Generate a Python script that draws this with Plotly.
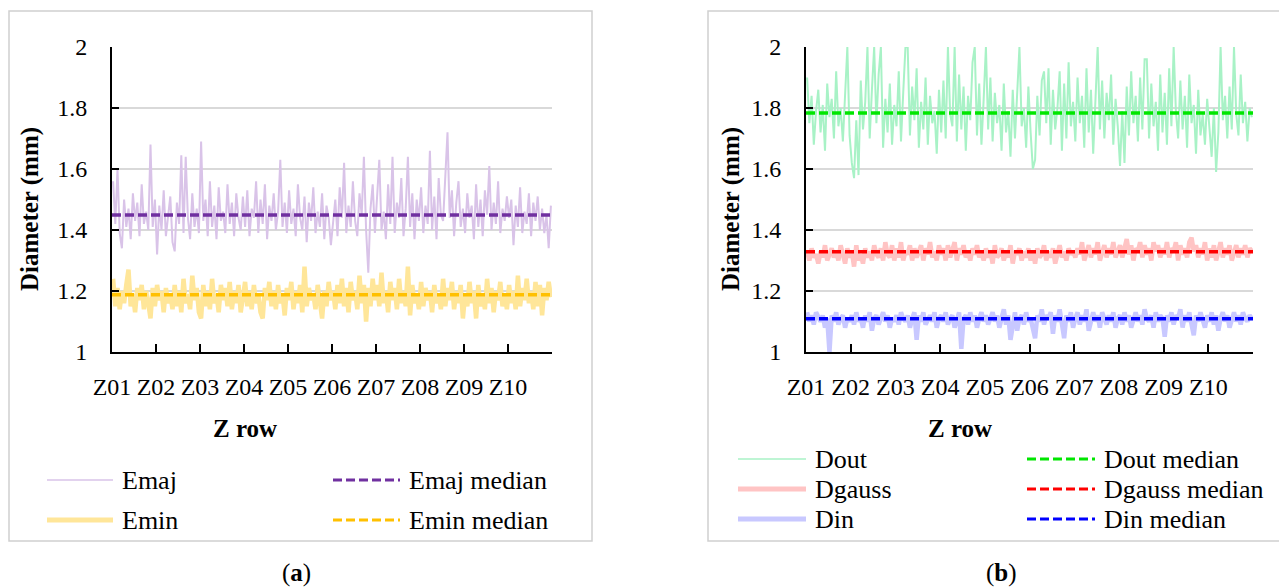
import plotly.graph_objects as go

# ---------------- data ----------------
zones = ["Z01", "Z02", "Z03", "Z04", "Z05", "Z06", "Z07", "Z08", "Z09", "Z10"]

emaj = [
    1.56, 1.42, 1.60, 1.39, 1.34, 1.50, 1.41, 1.47, 1.37, 1.52, 1.43, 1.49, 1.38, 1.55, 1.42, 1.46, 1.40, 1.68, 1.41, 1.50,
    1.32, 1.48, 1.40, 1.53, 1.38, 1.45, 1.51, 1.36, 1.33, 1.49, 1.42, 1.645, 1.39, 1.64, 1.44, 1.37, 1.52, 1.41, 1.47, 1.39,
    1.69, 1.43, 1.50, 1.38, 1.56, 1.41, 1.48, 1.37, 1.54, 1.43, 1.46, 1.39, 1.55, 1.42, 1.49, 1.38, 1.52, 1.44, 1.40, 1.51,
    1.41, 1.53, 1.38, 1.47, 1.44, 1.56, 1.39, 1.50, 1.42, 1.55, 1.37, 1.48, 1.43, 1.52, 1.40, 1.46, 1.63, 1.41, 1.49, 1.39,
    1.53, 1.42, 1.47, 1.38, 1.55, 1.44, 1.40, 1.51, 1.36, 1.49, 1.43, 1.54, 1.39, 1.46, 1.41, 1.52, 1.37, 1.48, 1.44, 1.35,
    1.42, 1.50, 1.38, 1.54, 1.44, 1.62, 1.39, 1.48, 1.41, 1.56, 1.43, 1.38, 1.52, 1.45, 1.64, 1.40, 1.26, 1.47, 1.55, 1.39,
    1.51, 1.63, 1.40, 1.46, 1.37, 1.55, 1.42, 1.64, 1.39, 1.49, 1.44, 1.57, 1.38, 1.47, 1.64, 1.41, 1.52, 1.37, 1.50, 1.43,
    1.54, 1.39, 1.48, 1.42, 1.66, 1.40, 1.51, 1.37, 1.57, 1.45, 1.43, 1.60, 1.72, 1.44, 1.53, 1.38, 1.49, 1.56, 1.41, 1.47,
    1.39, 1.52, 1.44, 1.48, 1.37, 1.55, 1.41, 1.50, 1.38, 1.53, 1.45, 1.61, 1.40, 1.49, 1.42, 1.56, 1.39, 1.47, 1.43, 1.51,
    1.44, 1.50, 1.35, 1.48, 1.41, 1.54, 1.39, 1.46, 1.42, 1.52, 1.38, 1.49, 1.43, 1.51, 1.40, 1.47, 1.39, 1.45, 1.34, 1.48,
]

emin = [
    1.24, 1.15, 1.21, 1.14, 1.20, 1.16, 1.22, 1.27, 1.15, 1.19, 1.13, 1.21, 1.17, 1.22, 1.14, 1.20, 1.16, 1.11, 1.21, 1.15,
    1.22, 1.17, 1.20, 1.13, 1.21, 1.16, 1.19, 1.14, 1.22, 1.15, 1.20, 1.13, 1.24, 1.16, 1.19, 1.14, 1.25, 1.17, 1.21, 1.13,
    1.11, 1.22, 1.15, 1.20, 1.14, 1.24, 1.16, 1.19, 1.13, 1.22, 1.17, 1.21, 1.15, 1.23, 1.14, 1.20, 1.16, 1.22, 1.13, 1.19,
    1.23, 1.15, 1.20, 1.14, 1.22, 1.16, 1.19, 1.13, 1.11, 1.21, 1.17, 1.23, 1.15, 1.20, 1.14, 1.22, 1.16, 1.19, 1.12, 1.21,
    1.17, 1.23, 1.14, 1.20, 1.16, 1.22, 1.13, 1.28, 1.15, 1.21, 1.17, 1.19, 1.14, 1.22, 1.16, 1.11, 1.20, 1.15, 1.23, 1.17,
    1.20, 1.14, 1.22, 1.16, 1.24, 1.15, 1.21, 1.13, 1.23, 1.17, 1.20, 1.14, 1.25, 1.16, 1.22, 1.10, 1.21, 1.15, 1.24, 1.17,
    1.22, 1.15, 1.26, 1.16, 1.20, 1.13, 1.23, 1.17, 1.21, 1.14, 1.24, 1.16, 1.20, 1.15, 1.28, 1.12, 1.22, 1.16, 1.19, 1.14,
    1.23, 1.15, 1.21, 1.17, 1.20, 1.13, 1.22, 1.16, 1.19, 1.14, 1.24, 1.15, 1.21, 1.17, 1.23, 1.14, 1.20, 1.16, 1.22, 1.11,
    1.19, 1.15, 1.23, 1.16, 1.20, 1.11, 1.22, 1.15, 1.19, 1.14, 1.24, 1.16, 1.21, 1.13, 1.20, 1.17, 1.23, 1.15, 1.19, 1.14,
    1.22, 1.16, 1.20, 1.14, 1.25, 1.15, 1.21, 1.17, 1.24, 1.16, 1.20, 1.14, 1.23, 1.15, 1.22, 1.12, 1.21, 1.17, 1.23, 1.18,
]

dout = [
    1.90, 1.75, 1.84, 1.68, 1.79, 1.86, 1.72, 1.81, 1.66, 1.88, 1.77, 1.83, 1.70, 1.92, 1.74, 1.80, 1.69, 1.85, 2.00, 1.71,
    1.62, 1.57, 1.76, 1.58, 1.89, 1.73, 1.82, 2.00, 1.70, 1.86, 2.00, 1.75, 1.91, 2.00, 1.67, 1.83, 1.72, 1.88, 1.68, 1.81,
    1.74, 1.92, 1.69, 1.85, 2.00, 2.00, 1.71, 1.87, 1.76, 1.93, 1.67, 1.82, 1.73, 1.90, 1.68, 1.84, 1.75, 1.79, 1.65, 1.86,
    1.72, 1.89, 1.70, 2.00, 1.78, 1.74, 2.00, 1.69, 1.91, 1.73, 1.87, 1.66, 1.84, 1.76, 1.95, 2.00, 1.71, 1.88, 1.68, 1.83,
    2.00, 1.73, 1.90, 1.69, 1.85, 1.75, 1.81, 1.66, 1.88, 1.72, 1.79, 1.64, 1.86, 1.70, 1.83, 2.00, 1.74, 1.80, 1.67, 1.87,
    1.72, 1.60, 1.63, 1.84, 1.71, 1.89, 1.92, 1.75, 1.93, 1.68, 1.86, 1.73, 1.80, 1.92, 1.66, 1.88, 1.70, 1.95, 1.74, 1.82,
    1.69, 1.90, 1.75, 1.84, 1.67, 1.93, 1.72, 1.86, 1.65, 1.80, 2.00, 1.73, 1.89, 1.70, 1.85, 1.76, 1.91, 1.68, 1.83, 1.74,
    1.61, 1.79, 1.62, 1.87, 1.71, 1.92, 1.75, 1.84, 1.69, 1.90, 1.73, 1.96, 1.96, 1.70, 1.88, 1.74, 1.82, 1.66, 1.91, 1.72,
    1.85, 1.68, 1.93, 1.74, 2.00, 1.79, 1.70, 1.89, 1.73, 1.84, 1.67, 1.91, 1.75, 1.81, 1.65, 1.86, 1.71, 1.78, 1.68, 1.83,
    1.74, 1.64, 1.80, 1.59, 1.72, 2.00, 1.76, 1.84, 1.70, 1.87, 1.73, 2.00, 1.78, 1.71, 1.91, 1.75, 1.82, 1.69, 1.80, 1.77,
]

dgauss = [
    1.33, 1.30, 1.34, 1.31, 1.32, 1.29, 1.33, 1.31, 1.35, 1.30, 1.32, 1.34, 1.31, 1.33, 1.30, 1.35, 1.32, 1.29, 1.34, 1.31,
    1.33, 1.28, 1.35, 1.30, 1.32, 1.29, 1.34, 1.31, 1.33, 1.30, 1.35, 1.32, 1.31, 1.34, 1.30, 1.36, 1.32, 1.31, 1.35, 1.30,
    1.34, 1.31, 1.36, 1.30, 1.33, 1.32, 1.35, 1.30, 1.34, 1.31, 1.33, 1.35, 1.30, 1.34, 1.32, 1.36, 1.31, 1.33, 1.30, 1.35,
    1.32, 1.34, 1.30, 1.35, 1.31, 1.33, 1.36, 1.30, 1.34, 1.32, 1.35, 1.31, 1.33, 1.30, 1.34, 1.32, 1.35, 1.31, 1.33, 1.30,
    1.34, 1.31, 1.33, 1.29, 1.35, 1.31, 1.32, 1.34, 1.30, 1.33, 1.31, 1.35, 1.29, 1.33, 1.32, 1.34, 1.30, 1.33, 1.31, 1.34,
    1.30, 1.33, 1.29, 1.34, 1.31, 1.32, 1.35, 1.30, 1.33, 1.31, 1.34, 1.29, 1.32, 1.35, 1.31, 1.33, 1.30, 1.34, 1.32, 1.33,
    1.31, 1.34, 1.32, 1.36, 1.30, 1.33, 1.35, 1.31, 1.34, 1.32, 1.36, 1.30, 1.33, 1.35, 1.31, 1.34, 1.32, 1.36, 1.31, 1.33,
    1.35, 1.31, 1.34, 1.37, 1.32, 1.35, 1.30, 1.34, 1.33, 1.36, 1.31, 1.35, 1.32, 1.34, 1.30, 1.36, 1.33, 1.35, 1.31, 1.34,
    1.32, 1.36, 1.31, 1.34, 1.33, 1.36, 1.30, 1.35, 1.32, 1.34, 1.31, 1.36, 1.375, 1.33, 1.35, 1.31, 1.34, 1.32, 1.36, 1.30,
    1.34, 1.31, 1.35, 1.30, 1.33, 1.36, 1.31, 1.34, 1.32, 1.35, 1.30, 1.33, 1.35, 1.31, 1.34, 1.32, 1.35, 1.31, 1.34, 1.33,
]

din = [
    1.13, 1.10, 1.12, 1.09, 1.13, 1.11, 1.10, 1.12, 1.08, 1.11, 1.00, 1.12, 1.10, 1.13, 1.09, 1.11, 1.12, 1.08, 1.11, 1.10,
    1.12, 1.09, 1.13, 1.10, 1.11, 1.08, 1.12, 1.10, 1.13, 1.07, 1.11, 1.12, 1.09, 1.11, 1.13, 1.10, 1.12, 1.08, 1.11, 1.10,
    1.12, 1.09, 1.13, 1.11, 1.10, 1.12, 1.08, 1.11, 1.13, 1.04, 1.12, 1.10, 1.13, 1.09, 1.11, 1.12, 1.10, 1.13, 1.08, 1.11,
    1.12, 1.10, 1.13, 1.09, 1.11, 1.12, 1.08, 1.10, 1.13, 1.01, 1.11, 1.12, 1.09, 1.13, 1.10, 1.12, 1.08, 1.11, 1.13, 1.10,
    1.12, 1.09, 1.11, 1.13, 1.10, 1.12, 1.08, 1.11, 1.14, 1.09, 1.12, 1.04, 1.10, 1.13, 1.07, 1.11, 1.12, 1.09, 1.13, 1.10,
    1.11, 1.08, 1.045, 1.12, 1.10, 1.14, 1.09, 1.12, 1.11, 1.13, 1.06, 1.12, 1.10, 1.14, 1.09, 1.045, 1.12, 1.10, 1.13, 1.08,
    1.11, 1.13, 1.09, 1.12, 1.10, 1.14, 1.07, 1.11, 1.13, 1.10, 1.12, 1.08, 1.13, 1.11, 1.09, 1.12, 1.10, 1.13, 1.08, 1.11,
    1.12, 1.09, 1.13, 1.10, 1.12, 1.08, 1.11, 1.13, 1.10, 1.12, 1.09, 1.14, 1.11, 1.10, 1.12, 1.08, 1.13, 1.10, 1.12, 1.11,
    1.05, 1.12, 1.10, 1.13, 1.09, 1.12, 1.11, 1.14, 1.08, 1.12, 1.10, 1.13, 1.09, 1.055, 1.12, 1.10, 1.13, 1.11, 1.08, 1.12,
    1.10, 1.13, 1.09, 1.12, 1.07, 1.11, 1.13, 1.10, 1.12, 1.08, 1.11, 1.13, 1.10, 1.12, 1.09, 1.13, 1.11, 1.10, 1.12, 1.11,
]

emaj_median = 1.449
emin_median = 1.188
dout_median = 1.784
dgauss_median = 1.329
din_median = 1.109

y_ticks = [1, 1.2, 1.4, 1.6, 1.8, 2]
y_ticktext = ["1", "1.2", "1.4", "1.6", "1.8", "2"]

# ---------------- layout helpers ----------------
# the page shows the figure offset by the browser's 8px body margin
OFF = 8
W, H = 1287 - OFF, 588 - OFF
FONT = "Liberation Serif"


def px(x):
    return (x - OFF) / W


def py(y):
    return 1 - (y - OFF) / H


n = len(emaj)
xs = list(range(n))
per_zone = n // len(zones)
x_lo, x_hi = -0.5, n - 0.5
tickvals = [x_lo + per_zone * k for k in range(len(zones) + 1)]
ticktext = zones + [""]

COL = dict(
    emaj="#d9c3e8", emaj_m="#7030a0",
    emin="#ffe699", emin_m="#ffc000",
    dout="#a8f2c6", dout_m="#00e600",
    dgauss="#ffc4c4", dgauss_m="#ff0000",
    din="#c8c8ff", din_m="#0000ff",
)
DASH = "9px,4px"

fig = go.Figure()


def series(y, color, width, xa, ya):
    fig.add_trace(go.Scatter(x=xs, y=y, mode="lines", line=dict(color=color, width=width),
                             xaxis=xa, yaxis=ya, showlegend=False, hoverinfo="skip"))


def median(v, color, xa, ya):
    fig.add_trace(go.Scatter(x=[x_lo, x_hi], y=[v, v], mode="lines",
                             line=dict(color=color, width=3.5, dash=DASH),
                             xaxis=xa, yaxis=ya, showlegend=False, hoverinfo="skip"))


series(emaj, COL["emaj"], 2, "x", "y")
series(emin, COL["emin"], 4.5, "x", "y")
median(emaj_median, COL["emaj_m"], "x", "y")
median(emin_median, COL["emin_m"], "x", "y")

series(dout, COL["dout"], 2, "x2", "y2")
series(dgauss, COL["dgauss"], 4.5, "x2", "y2")
series(din, COL["din"], 4.5, "x2", "y2")
median(dout_median, COL["dout_m"], "x2", "y2")
median(dgauss_median, COL["dgauss_m"], "x2", "y2")
median(din_median, COL["din_m"], "x2", "y2")

ydom = [py(352), py(47)]


def xaxis_cfg(dom, anchor):
    return dict(domain=dom, anchor=anchor, range=[x_lo, x_hi], tickmode="array",
                tickvals=tickvals, ticktext=ticktext, ticks="inside", ticklen=8,
                tickwidth=2, tickcolor="black", showline=True, linecolor="black",
                linewidth=2, showgrid=False, zeroline=False, automargin=False,
                tickfont=dict(family=FONT, size=24, color="black"), ticklabelstandoff=12)


def yaxis_cfg(anchor):
    return dict(domain=ydom, anchor=anchor, range=[1, 2], tickmode="array",
                tickvals=y_ticks, ticktext=y_ticktext, ticks="inside", ticklen=7,
                tickwidth=2, tickcolor="black", showline=True, linecolor="black",
                linewidth=2, showgrid=True, gridcolor="#d9d9d9", gridwidth=1.5,
                zeroline=False, automargin=False,
                tickfont=dict(family=FONT, size=24, color="black"),
                ticklabelstandoff=18)


shapes = []
annotations = []

# panel borders
for (x0, x1) in [(9, 592), (708, 1283)]:
    shapes.append(dict(type="rect", xref="paper", yref="paper", x0=px(x0), x1=px(x1),
                       y0=py(541), y1=py(11), line=dict(color="#d0d0d0", width=1.5)))


def text(x, y, s, size=24, anchor="left", angle=0):
    annotations.append(dict(x=px(x), y=py(y), xref="paper", yref="paper", text=s,
                            showarrow=False, xanchor=anchor, yanchor="middle",
                            textangle=angle, font=dict(family=FONT, size=size, color="black")))


def legend_item(x0, x1, y, color, width, dash, label):
    shapes.append(dict(type="line", xref="paper", yref="paper", x0=px(x0), x1=px(x1),
                       y0=py(y), y1=py(y), line=dict(color=color, width=width, dash=dash)))
    text(x1 + 7, y, label, size=26)


# axis titles
text(30, 209, "<b>Diameter (mm)</b>", size=25, anchor="center", angle=-90)
text(731, 209, "<b>Diameter (mm)</b>", size=25, anchor="center", angle=-90)
text(245, 428, "<b>Z row</b>", size=25, anchor="center")
text(960, 428, "<b>Z row</b>", size=25, anchor="center")
text(296, 573, "(<b>a</b>)", size=25, anchor="center")
text(1001, 573, "(<b>b</b>)", size=25, anchor="center")

# legends panel (a)
legend_item(47, 113, 480, COL["emaj"], 1.5, "solid", "Emaj")
legend_item(333, 400, 480, COL["emaj_m"], 3, DASH, "Emaj median")
legend_item(47, 113, 520, COL["emin"], 5, "solid", "Emin")
legend_item(333, 400, 520, COL["emin_m"], 3, DASH, "Emin median")

# legends panel (b)
legend_item(738, 806, 459, COL["dout"], 1.5, "solid", "Dout")
legend_item(1027, 1095, 459, COL["dout_m"], 3, DASH, "Dout median")
legend_item(738, 806, 489, COL["dgauss"], 5, "solid", "Dgauss")
legend_item(1027, 1095, 489, COL["dgauss_m"], 3, DASH, "Dgauss median")
legend_item(738, 806, 519, COL["din"], 5, "solid", "Din")
legend_item(1027, 1095, 519, COL["din_m"], 3, DASH, "Din median")

fig.update_layout(
    template="none",
    width=W, height=H, margin=dict(l=0, r=0, t=0, b=0, pad=0, autoexpand=False),
    paper_bgcolor="white", plot_bgcolor="white",
    xaxis=xaxis_cfg([px(112), px(552)], "y"),
    yaxis=yaxis_cfg("x"),
    xaxis2=xaxis_cfg([px(806), px(1253)], "y2"),
    yaxis2=yaxis_cfg("x2"),
    shapes=shapes, annotations=annotations, showlegend=False,
    font=dict(family=FONT),
)

fig.write_html("out.html")
